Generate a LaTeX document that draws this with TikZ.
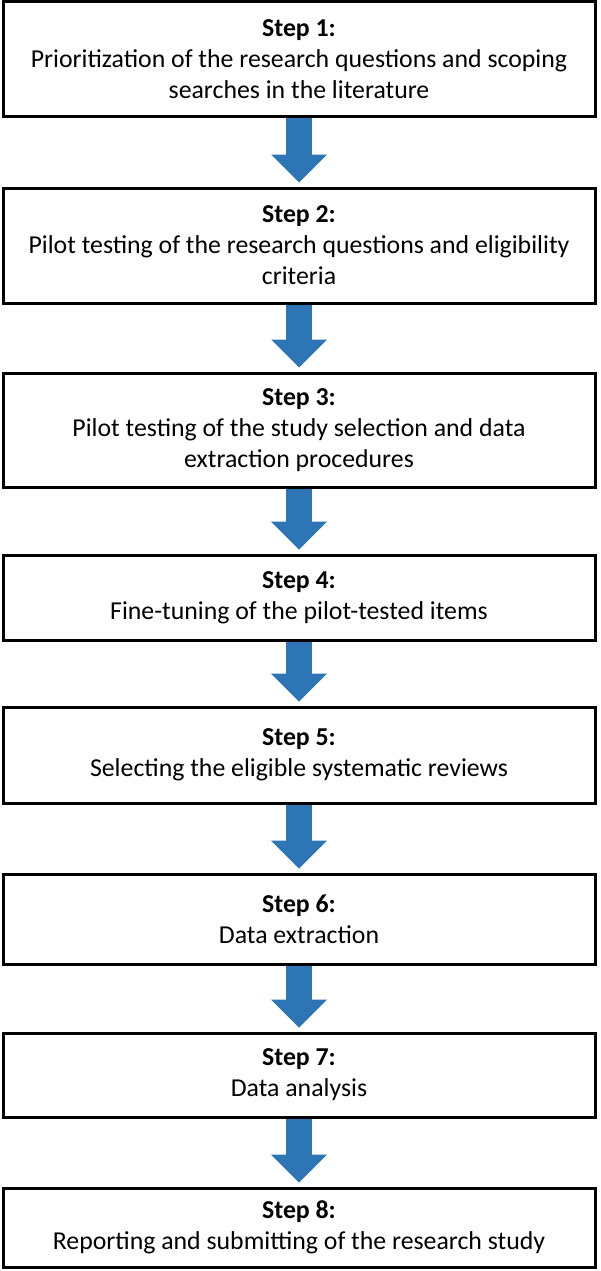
\documentclass[tikz,border=0pt]{standalone}
\usepackage{fontspec}
\setmainfont{Carlito}
\usetikzlibrary{arrows.meta}
\definecolor{arrowblue}{RGB}{46,117,182}
\begin{document}
\begin{tikzpicture}[x=1pt,y=1pt,
  stepbox/.style={draw=black, line width=3pt, fill=white, minimum width=592pt, inner sep=0pt, align=center, font=\fontsize{25.8pt}{31pt}\selectfont},
  flow/.style={draw=arrowblue, line width=26pt, -{Triangle[width=56pt,length=28pt,line width=0pt]}}]
\useasboundingbox (0,0) rectangle (600,-1271);
\node[stepbox, minimum height=115pt] (b1) at (299,-59.5) {\textbf{Step 1:}\\Prioritization of the research questions and scoping\\searches in the literature};
\node[stepbox, minimum height=115pt] (b2) at (299,-245.5) {\textbf{Step 2:}\\Pilot testing of the research questions and eligibility\\criteria};
\node[stepbox, minimum height=114pt] (b3) at (299,-430) {\textbf{Step 3:}\\Pilot testing of the study selection and data\\extraction procedures};
\node[stepbox, minimum height=85pt] (b4) at (299,-597.5) {\textbf{Step 4:}\\Fine-tuning of the pilot-tested items};
\node[stepbox, minimum height=96pt] (b5) at (299,-755) {\textbf{Step 5:}\\Selecting the eligible systematic reviews};
\node[stepbox, minimum height=90pt] (b6) at (299,-919) {\textbf{Step 6:}\\Data extraction};
\node[stepbox, minimum height=84pt] (b7) at (299,-1075) {\textbf{Step 7:}\\Data analysis};
\node[stepbox, minimum height=79pt] (b8) at (299,-1227.5) {\textbf{Step 8:}\\Reporting and submitting of the research study};
\foreach \a/\b in {b1/b2,b2/b3,b3/b4,b4/b5,b5/b6,b6/b7,b7/b8}
  \draw[flow] (\a.south) -- ([yshift=4pt]\b.north);
\end{tikzpicture}
\end{document}
